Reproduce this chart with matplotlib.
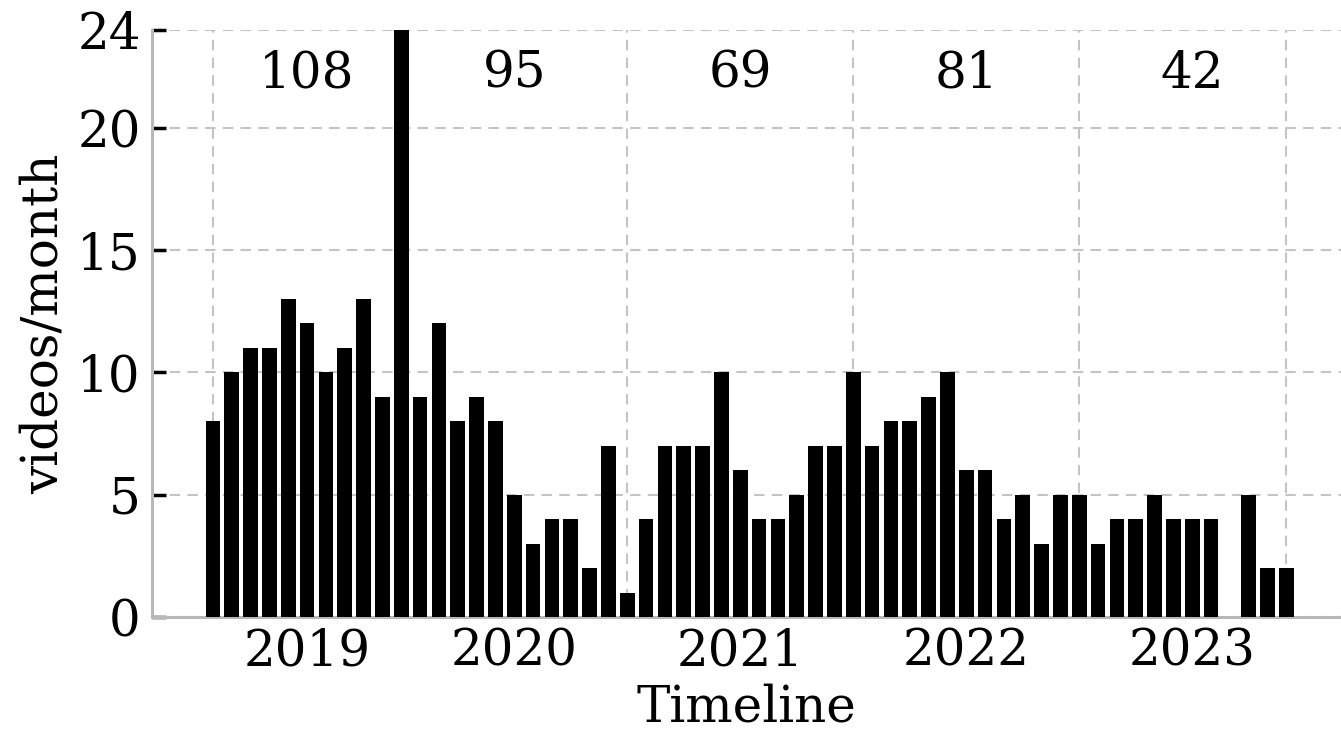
import matplotlib
matplotlib.use('Agg')
import numpy as np
from matplotlib import pyplot as plt

plt.rcParams['font.family'] = ['DejaVu Serif']

# monthly uploads, Mar 2019 .. Dec 2023
years = [2019, 2020, 2021, 2022, 2023]
videos_2019 = [8, 10, 11, 11, 13, 12, 10, 11, 13, 9]  # from March
videos_2020 = [24, 9, 12, 8, 9, 8, 5, 3, 4, 4, 2, 7]
videos_2021 = [1, 4, 7, 7, 7, 10, 6, 4, 4, 5, 7, 7]
videos_2022 = [10, 7, 8, 8, 9, 10, 6, 6, 4, 5, 3, 5]
videos_2023 = [5, 3, 4, 4, 5, 4, 4, 4, 0, 5, 2, 2]
per_year = [videos_2019, videos_2020, videos_2021, videos_2022, videos_2023]

counts = np.concatenate(per_year)
x = np.arange(len(counts))

# index where each year begins, label sits at start + n//2
starts = np.cumsum([0] + [len(v) for v in per_year[:-1]])
label_pos = [s + len(v) // 2 for s, v in zip(starts, per_year)]
totals = [sum(v) for v in per_year]
grid_pos = list(starts) + [len(counts) - 1]

fs = 36

fig = plt.figure(figsize=(13.41, 7.31), dpi=100)
ax = fig.add_axes([0.1133, 0.156, 0.8867, 0.803])

ax.bar(x, counts, width=0.78, color='black', zorder=3)

ax.set_xlim(-3.24, 59.9)
ax.set_ylim(0, 24)
ax.set_yticks([0, 5, 10, 15, 20, 24])

ax.set_xticks(grid_pos)
ax.set_xticklabels([])
ax.set_xticks(label_pos, minor=True)
ax.set_xticklabels([str(y) for y in years], minor=True)
ax.tick_params(axis='x', which='both', length=0, labelsize=fs, pad=7)
ax.tick_params(axis='y', direction='in', length=10, width=2.5, color='black',
               labelsize=fs, pad=8)

ax.grid(True, which='major', color='#c4c4c4', linestyle=(0, (5, 3.5)),
        linewidth=1.5, zorder=0)
ax.set_axisbelow(True)

for side in ['top', 'right']:
    ax.spines[side].set_visible(False)
for side in ['left', 'bottom']:
    ax.spines[side].set_color('#b8b8b8')
    ax.spines[side].set_linewidth(2.2)

for pos, tot in zip(label_pos, totals):
    ax.text(pos, 22.2, str(tot), ha='center', va='center', fontsize=fs, zorder=4)

ax.set_xlabel('Timeline', fontsize=fs, labelpad=5)
ax.set_ylabel('videos/month', fontsize=fs, labelpad=6)

fig.savefig('out.png', dpi=100)
